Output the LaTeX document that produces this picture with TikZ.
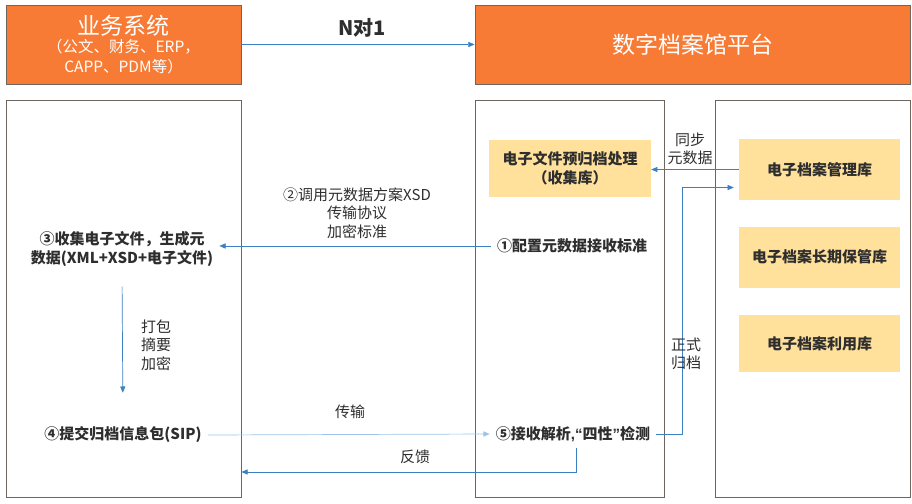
\documentclass[tikz,border=0pt]{standalone}
\usepackage{fontspec}
\setmainfont{Noto Sans CJK SC}
\newfontfamily\lat{Liberation Sans}
\usetikzlibrary{arrows.meta}
\definecolor{orng}{HTML}{F77B35}
\definecolor{gelb}{HTML}{FFE19C}
\definecolor{rahmen}{HTML}{6E665E}
\definecolor{blau}{HTML}{3A80C2}
\definecolor{hblau}{HTML}{9CC3E6}
\definecolor{schrift}{HTML}{2E2E2E}
\tikzset{
  kopf/.style={fill=orng,draw=rahmen,line width=0.8pt,text=white,align=center,inner sep=0pt},
  fach/.style={draw=rahmen,line width=0.8pt,inner sep=0pt},
  lager/.style={fill=gelb,text=schrift,align=center,inner sep=0pt,font=\fontsize{15}{19}\selectfont\bfseries},
  schritt/.style={text=schrift,align=center,inner sep=6pt,font=\fontsize{15}{18.5}\selectfont\bfseries},
  notiz/.style={text=schrift,align=center,inner sep=0pt,font=\fontsize{15}{18.5}\selectfont},
  pfeil/.style={-{Triangle[length=2.2mm,width=1.8mm]},blau,line width=0.7pt},
}
\begin{document}
\begin{tikzpicture}[x=1pt,y=-1pt]
  \useasboundingbox (0,0) rectangle (912,503);
  \node[kopf,minimum width=235pt,minimum height=79pt,font=\fontsize{15.5}{20}\selectfont] (sys) at (123.5,44.5)
    {{\fontsize{23}{26}\selectfont 业务系统}\\[-2pt]（公文、财务、ERP，\\CAPP、PDM等）};
  \node[kopf,minimum width=435pt,minimum height=79pt,font=\fontsize{23}{26}\selectfont] (plat) at (692.5,44.5)
    {数字档案馆平台};
  \draw[pfeil,line width=0.5pt] (sys.east) -- (plat.west);
  \node[text=schrift,font=\fontsize{20}{22}\selectfont\bfseries] (ratio) at (362,28) {N对1};

  \node[fach,minimum width=235pt,minimum height=397pt] (links) at (123.5,298.5) {};
  \node[fach,minimum width=189pt,minimum height=397pt] (mitte) at (569.5,298.5) {};
  \node[fach,minimum width=195pt,minimum height=397pt] (rechts) at (812.5,298.5) {};

  \node[lager,minimum width=162pt,minimum height=57pt] (samml) at (570,168.5) {电子文件预归档处理\\（收集库）};
  \node[lager,minimum width=161pt,minimum height=61pt] (verw) at (819.5,169.5) {电子档案管理库};
  \node[lager,minimum width=161pt,minimum height=61pt] (lang) at (819.5,257) {电子档案长期保管库};
  \node[lager,minimum width=161pt,minimum height=57pt] (nutz) at (819.5,343.5) {电子档案利用库};

  \node[schritt] (cfg) at (572,246) {①配置元数据接收标准};
  \node[schritt] (coll) at (122,249) {③收集电子文件，生成元\\数据(XML+XSD+电子文件)};
  \node[schritt] (sip) at (123,435) {④提交归档信息包(SIP)};
  \node[schritt] (chk) at (573,434) {⑤接收解析{\lat ,“}四性{\lat ”}检测};

  \draw[pfeil] (cfg.west) -- (cfg.west -| coll.east);
  \node[notiz] (std) at (357,213) {②调用元数据方案XSD\\传输协议\\加密标准};
  \draw[pfeil] (coll.south) -- (sip.north) [shorten <=14pt,shorten >=28pt];
  \node[notiz] (pack) at (156,345) {打包\\摘要\\加密};
  \draw[pfeil,hblau] (sip.east) -- (chk.west);
  \node[notiz] (trans) at (350,412) {传输};
  \draw[pfeil] ([xshift=3pt]chk.south) |- ([yshift=-173.5pt]links.east);
  \node[notiz] (fb) at (415,457) {反馈};
  \draw[pfeil] (chk.east) -- ++(26,0) |- ([yshift=-18pt]verw.west) [shorten >=5pt];
  \node[notiz] (arch) at (686,354) {正式\\归档};
  \draw[pfeil] (verw.west) -- (verw.west -| samml.east);
  \node[notiz] (sync) at (690,149) {同步\\元数据};
\end{tikzpicture}
\end{document}
